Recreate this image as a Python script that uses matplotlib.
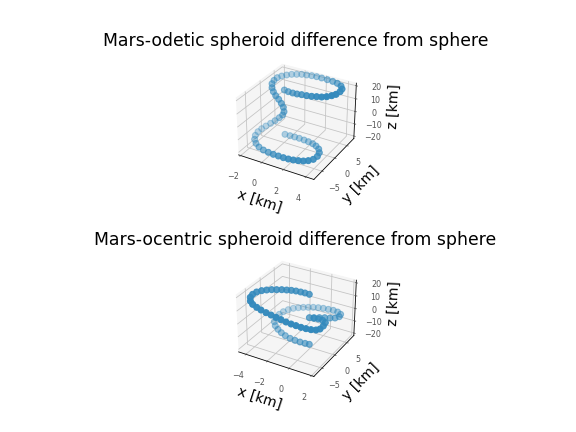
import matplotlib
matplotlib.use('Agg')
import matplotlib.pyplot as plt

x1 = [-0.60,-0.12,0.36,0.80,1.23,1.71,2.16,2.58,3.00,3.37,3.68,3.92,4.02,3.97,3.66,3.19,2.71,2.19,
      1.65,1.18,0.74,0.32,-0.09,-0.45,-0.81,-1.13,-1.42,-1.64,-1.68,-1.63,-1.44,-1.22,-0.93,-0.63,-0.32,-0.17,
      -0.08,-0.22,-0.55,-0.92,-1.33,-1.65,-1.94,-2.11,-2.14,-1.96,-1.63,-1.17,-0.67,-0.14,0.36,0.84,1.31,1.75,
      2.16,2.55,2.92,3.23,3.48,3.55,3.43,3.14,2.76,2.40,1.99,1.60,1.18,0.80,0.41,-0.01]
y1 = [2.56,2.13,1.86,1.70,1.68,1.58,1.58,1.70,1.82,2.16,2.73,3.35,4.50,5.53,6.51,7.13,7.42,7.53,
      7.61,7.63,7.53,7.30,7.07,6.59,6.11,5.48,4.78,4.00,2.95,2.04,1.32,0.95,0.68,0.59,0.35,0.48,
      0.37,0.39,0.42,0.24,0.16,-0.36,-0.85,-1.58,-2.41,-3.33,-4.05,-4.68,-4.98,-5.20,-5.32,-5.34,-5.36,-5.29,
      -5.12,-4.85,-4.49,-3.94,-3.10,-1.84,-0.56,0.42,0.98,1.20,1.23,1.15,1.04,0.82,0.60,0.36]
z1 = [14,14.5,15,15.5,16,16.5,17,17.5,18,18.5,19,19.5,19.8,20,20,20,20,20,20,20,20,20,20,20,20,19.8,19.5,19,18.5,17.5,
      16,14,12,10,8,5,2,-1,-4,-7,-10,-12,-14,-15.5,-17,-18,-19,-19.5,-20,-20,-20,-20,-20,-20,-20,-20,-20,-20,-20,-20,-20,
      -19.8,-19.5,-19,-18.5,-18,-17.5,-17,-16.5,-16]
x2 = [-0.63,-0.93,-1.20,-1.49,-1.81,-2.10,-2.41,-2.70,-3.04,-3.35,-3.63,-3.85,-3.97,-3.92,-3.71,-3.51,-3.16,-2.82,
      -2.43,-2.07,-1.66,-1.25,-0.84,-0.45,-0.10,0.26,0.64,1.00,1.31,1.46,1.42,1.27,0.87,0.43,0.03,-0.39,
      -0.17,0.11,0.39,0.70,0.96,1.07,0.90,0.46,-0.03,-0.52,-1.02,-1.49,-1.94,-2.36,-2.78,-3.17,-3.54,-3.85,
      -4.09,-4.21,-4.21,-4.09,-3.78,-3.38,-2.96,-2.48,-1.98,-1.47,-0.99,-0.53,-0.16]
y2 = [1.92,1.53,1.03,0.49,0.07,-0.47,-1.03,-1.71,-2.16,-2.73,-3.40,-4.29,-5.19,-6.14,-6.87,-6.88,-6.83,-6.66,
      -6.42,-6.09,-5.95,-5.81,-5.67,-5.43,-5.09,-4.76,-4.51,-4.17,-3.63,-2.77,-1.34,0.09,0.79,1.03,1.05,1.04,
      1.88,2.80,3.71,4.52,5.41,6.70,8.05,8.78,9.16,9.24,9.32,9.27,9.11,8.83,8.54,8.14,7.62,6.86,
      5.88,4.78,3.53,2.44,1.62,1.09,0.73,0.36,0.16,0.01,-0.03,0.03,0.13]
z2 = [15,16,17,18,18.5,19,19.5,20,20,20,20,20,19.5,19,18,16,14.5,13,11.5,10,9,8,7,6,5,4,3.5,3,2.5,2,1.5,1,.5,0,-.5,-1,
      -2,-3,-4,-5,-6,-7,-8,-8.5,-9,-9.5,-10,-10.5,-11,-11.5,-12,-12.5,-13,-13.5,-14,-14.5,-15,-16,-17,-18,-19,-19.5,-20,-20,-20,-20,-20]
titles = ['Mars-odetic spheroid difference from sphere', 'Mars-ocentric spheroid difference from sphere']
xlims = [(-2.2, 4.7), (-4.7, 2.2)]

plt.rcParams['xtick.color'] = '#555555'
plt.rcParams['ytick.color'] = '#555555'
fig = plt.figure(figsize=(8, 6), dpi=72)
for t, X, Y, Z, xl, pos, pad in zip(titles, (x1, x2), (y1, y2), (z1, z2), xlims,
                                     ([.178, .565, .67, .31], [.178, .109, .67, .31]), (8, 6)):
    ax = fig.add_axes(pos, projection='3d')
    ax.scatter(X, Y, Z, c='#348ABD', s=36)
    ax.set_xlim(*xl); ax.set_ylim(-8, 8); ax.set_zlim(-22, 22)
    ax.set_yticks([-5, 0, 5]); ax.set_zticks([-20, -10, 0, 10, 20])
    ax.set_title(t, fontsize=17.2, pad=pad)
    ax.set_xlabel('x [km]', fontsize=14, labelpad=3)
    ax.set_ylabel('y [km]', fontsize=14, labelpad=3)
    ax.set_zlabel('z [km]', fontsize=14, labelpad=3)
    ax.tick_params(labelsize=8)
    ax.tick_params(axis='x', pad=4)
    ax.tick_params(axis='y', pad=3)
    ax.tick_params(axis='z', pad=4)
    for a in (ax.xaxis, ax.yaxis, ax.zaxis):
        a.set_pane_color((.96, .96, .96, 1))
        a._axinfo['grid']['color'] = '#c4c4c4'
fig.savefig('out.png')
